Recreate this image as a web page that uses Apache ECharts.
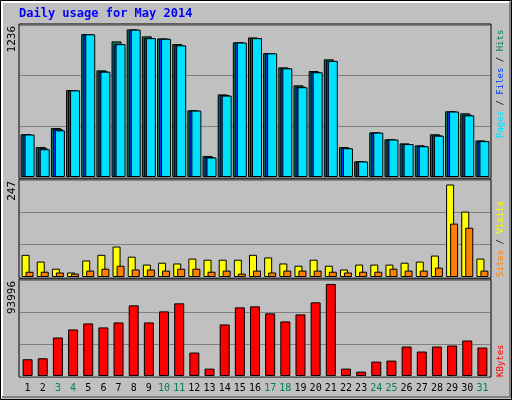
<!DOCTYPE html><html><head><meta charset="utf-8">
<script src="https://cdn.jsdelivr.net/npm/echarts@6/dist/echarts.min.js"></script>
<style>html,body{margin:0;padding:0;background:#c0c0c0}#c{width:512px;height:400px}</style></head><body><div id="c"></div><script>
const days=['1','2','3','4','5','6','7','8','9','10','11','12','13','14','15','16','17','18','19','20','21','22','23','24','25','26','27','28','29','30','31'];
const weekend=['3','4','10','11','17','18','24','25','31'];
const hits=[357,250,409,726,1194,891,1133,1233,1175,1158,1111,557,175,690,1125,1166,1035,916,766,885,983,250,131,373,315,281,265,357,549,532,306];
const files=[355,240,400,724,1192,882,1110,1231,1160,1155,1100,555,166,685,1123,1160,1033,910,755,878,970,242,130,371,313,275,259,348,547,520,300];
const pages=[355,232,390,724,1192,880,1110,1231,1160,1155,1100,555,163,680,1123,1160,1033,908,750,875,970,240,130,371,313,275,257,345,547,515,300];
const visits=[59,41,22,12,44,59,81,54,33,38,36,49,46,46,46,59,52,36,30,46,30,20,33,33,33,38,41,57,246,174,49];
const sites=[14,14,12,9,17,22,30,20,20,17,22,22,14,17,9,17,12,17,17,17,14,12,14,14,22,17,17,25,142,131,17];
const kbytes=[17090,18115,39307,47510,53663,49561,54688,72120,54688,65967,74171,23926,7520,52637,70069,71094,63917,55713,62891,75196,93996,7520,4443,14697,15723,30078,24951,30078,31104,36231,29053];
const maxLabels=['1236','247','93996'];
const F='DejaVu Sans Mono';
const grids=[{left:20,right:22,top:25,height:152},{left:20,right:22,top:180,height:97},{left:20,right:22,top:280,height:96}];
const yMax=[1270,258,98000];
const chart=echarts.init(document.getElementById('c'));
const bs={borderColor:'#000',borderWidth:1};
function xa(i,show){return {type:'category',gridIndex:i,data:days,axisLine:{show:false},axisTick:{show:false},
 axisLabel:{show:show,interval:0,fontFamily:F,fontSize:10,margin:7,color:(v)=>weekend.includes(v)?'#00805c':'#000'}};}
function ya(i){return {type:'value',gridIndex:i,min:0,max:yMax[i],interval:yMax[i]/3,axisLabel:{show:false},axisLine:{show:false},axisTick:{show:false},
 splitLine:{lineStyle:{color:'#808080',width:1}}};}
const rects=grids.map(g=>({type:'rect',shape:{x:g.left-1,y:g.top-1,width:512-g.left-g.right+2,height:g.height+2},style:{fill:'none',stroke:'#000',lineWidth:1},z:-1}));
const fnt='9px "DejaVu Sans Mono"';
const gfx=[
 {type:'rect',shape:{x:0.5,y:0.5,width:511,height:399},style:{fill:'#c0c0c0',stroke:'#000'},z:-10},
 {type:'polyline',shape:{points:[[2,398],[2,2],[509,2]]},style:{stroke:'#fff',lineWidth:2,fill:'none'},z:-9},
 {type:'polyline',shape:{points:[[510,2],[510,397],[2,397]]},style:{stroke:'#808080',lineWidth:2,fill:'none'},z:-9},
 {type:'text',left:19,top:8,style:{text:'Daily usage for May 2014',fill:'#0000ff',font:'bold 12px "DejaVu Sans Mono"'}},
 ...[25,180,280].map((t,i)=>({type:'text',x:7,y:t+1,rotation:Math.PI/2,style:{text:maxLabels[i],fill:'#000',font:'11px "DejaVu Sans Mono"',align:'right',verticalAlign:'top'}})),
 {type:'text',x:496,y:138,rotation:Math.PI/2,style:{text:'{a|Pages}{b| / }{c|Files}{b| / }{d|Hits}',font:fnt,verticalAlign:'top',rich:{a:{fill:'#00e0ff',font:fnt},b:{fill:'#000',font:fnt},c:{fill:'#0040ff',font:fnt},d:{fill:'#00805c',font:fnt}}}},
 {type:'text',x:496,y:277,rotation:Math.PI/2,style:{text:'{a|Sites}{b| / }{c|Visits}',font:fnt,verticalAlign:'top',rich:{a:{fill:'#ff8000',font:fnt},b:{fill:'#000',font:fnt},c:{fill:'#ffff00',font:fnt}}}},
 {type:'text',x:496,y:377,rotation:Math.PI/2,style:{text:'KBytes',fill:'#ff0000',font:fnt,verticalAlign:'top'}},
 ...rects
];
chart.setOption({animation:false,backgroundColor:'#c0c0c0',grid:grids,
 xAxis:[xa(0,false),xa(1,false),xa(2,true)],yAxis:[ya(0),ya(1),ya(2)],
 graphic:gfx,
 series:[
  {type:'bar',xAxisIndex:0,yAxisIndex:0,data:hits,barWidth:10,barGap:'-80%',itemStyle:{color:'#00805c',...bs}},
  {type:'bar',xAxisIndex:0,yAxisIndex:0,data:files,barWidth:10,barGap:'-80%',itemStyle:{color:'#0040ff',...bs}},
  {type:'bar',xAxisIndex:0,yAxisIndex:0,data:pages,barWidth:10,barGap:'-80%',itemStyle:{color:'#00e0ff',...bs}},
  {type:'bar',xAxisIndex:1,yAxisIndex:1,data:visits,barWidth:8,barGap:'-50%',itemStyle:{color:'#ffff00',...bs}},
  {type:'bar',xAxisIndex:1,yAxisIndex:1,data:sites,barWidth:8,barGap:'-50%',itemStyle:{color:'#ff8000',...bs}},
  {type:'bar',xAxisIndex:2,yAxisIndex:2,data:kbytes,barWidth:10,itemStyle:{color:'#ff0000',...bs}}
 ]});
</script></body></html>
